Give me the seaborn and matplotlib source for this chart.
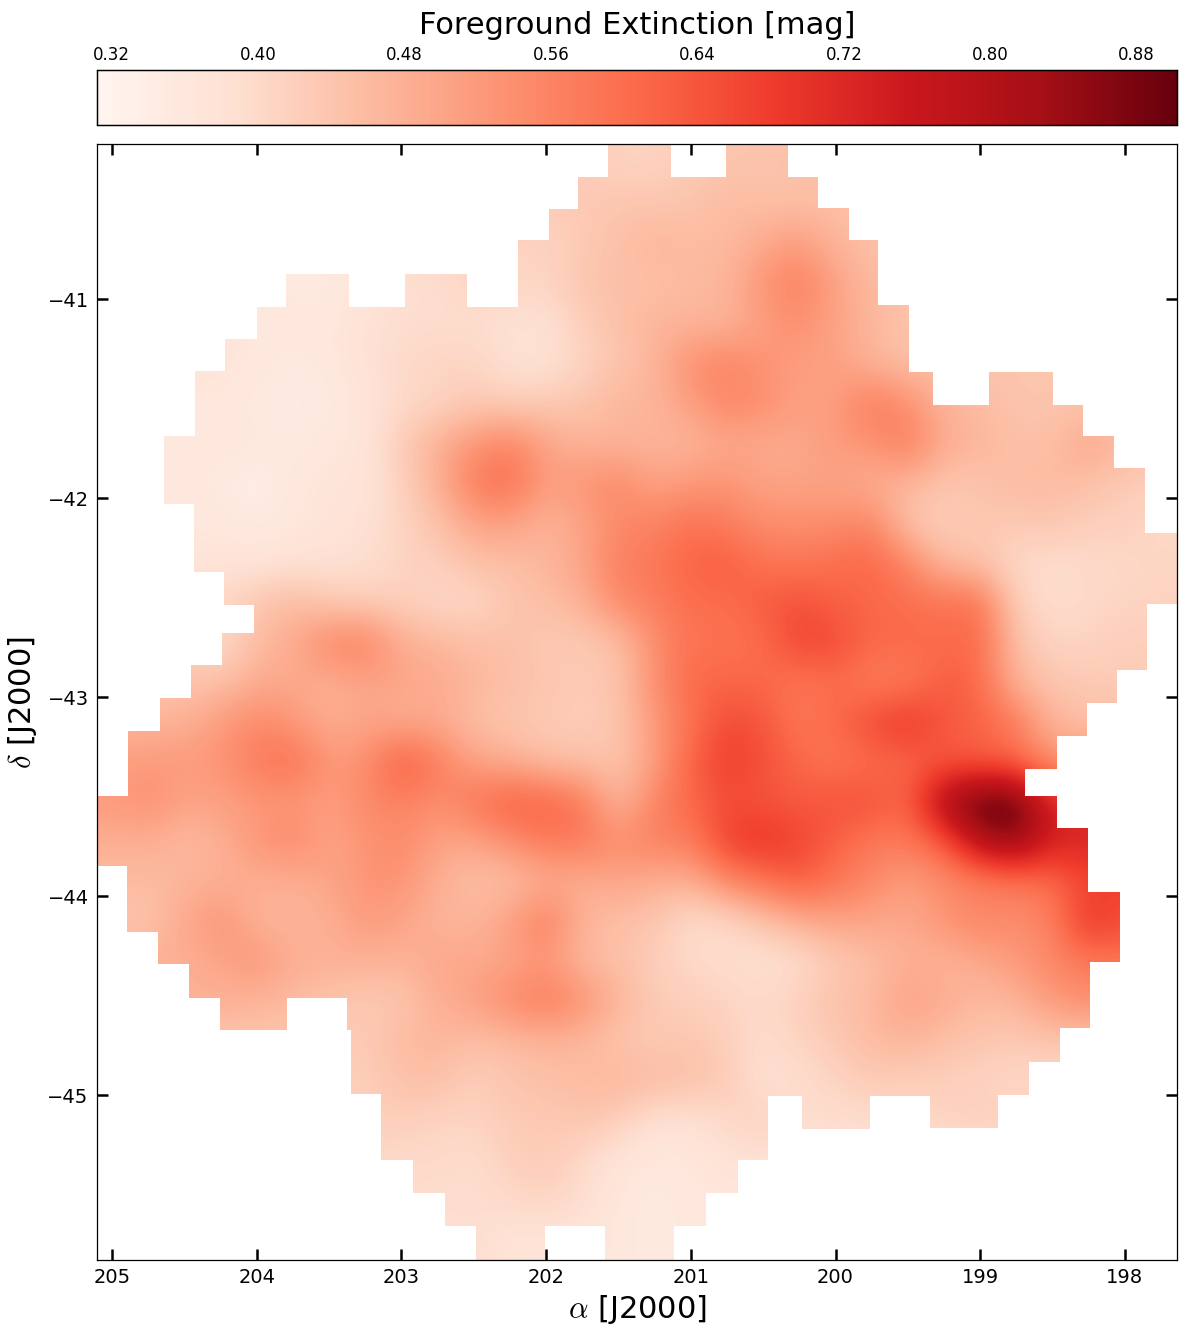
import numpy as np
import matplotlib.pyplot as plt
import seaborn as sns
from matplotlib.path import Path

RA_LEFT, RA_RIGHT = 205.104, 197.640
DEC_TOP, DEC_BOTTOM = -40.221, -45.829
VMIN, VMAX = 0.312, 0.902

ra_ticks = [205, 204, 203, 202, 201, 200, 199, 198]
dec_ticks = [-41, -42, -43, -44, -45]
cbar_ticks = [0.32, 0.40, 0.48, 0.56, 0.64, 0.72, 0.80, 0.88]

# extinction, rows north to south, columns east to west
extinction = [
    [.43,.43,.43,.43,.43,.43,.43,.43,.43,.43,.43,.43,.43,.43,.41,.41,.43,.44,.44,.45,.45,.45,.45,.45,.45,.45,.45,.45,.45,.45],
    [.43,.43,.43,.43,.43,.43,.43,.43,.43,.43,.43,.43,.43,.43,.44,.44,.44,.46,.45,.45,.45,.45,.45,.45,.45,.45,.45,.45,.45,.45],
    [.36,.36,.36,.36,.36,.36,.36,.38,.40,.40,.41,.41,.41,.43,.45,.47,.46,.46,.49,.52,.47,.45,.45,.45,.45,.45,.45,.45,.45,.45],
    [.36,.36,.36,.36,.36,.35,.35,.37,.39,.39,.41,.41,.41,.44,.45,.45,.46,.47,.53,.57,.51,.46,.45,.45,.45,.45,.45,.45,.45,.45],
    [.37,.37,.37,.37,.36,.36,.36,.38,.39,.39,.39,.38,.38,.42,.45,.47,.47,.47,.51,.54,.50,.47,.44,.44,.44,.44,.44,.44,.44,.44],
    [.37,.37,.37,.37,.36,.35,.36,.38,.40,.41,.41,.38,.38,.41,.44,.47,.54,.56,.53,.51,.51,.47,.45,.45,.44,.44,.44,.44,.44,.44],
    [.36,.36,.36,.36,.35,.35,.35,.37,.40,.41,.43,.42,.43,.44,.47,.47,.51,.56,.54,.51,.51,.58,.54,.47,.46,.44,.44,.44,.44,.44],
    [.36,.36,.36,.36,.36,.35,.36,.37,.43,.48,.53,.56,.50,.47,.47,.47,.47,.49,.49,.49,.52,.53,.58,.49,.47,.45,.45,.50,.47,.45],
    [.36,.36,.36,.35,.34,.36,.37,.37,.42,.48,.58,.60,.51,.53,.55,.50,.52,.53,.50,.50,.50,.48,.47,.44,.44,.46,.46,.45,.43,.42],
    [.36,.36,.36,.36,.35,.36,.37,.38,.41,.45,.50,.51,.47,.50,.55,.56,.59,.57,.54,.54,.54,.56,.44,.42,.44,.43,.44,.42,.42,.40],
    [.37,.37,.37,.37,.37,.38,.38,.39,.41,.42,.45,.45,.47,.50,.57,.58,.62,.63,.59,.58,.60,.61,.56,.46,.44,.40,.39,.40,.40,.41],
    [.41,.41,.41,.41,.44,.46,.43,.42,.42,.40,.40,.44,.45,.48,.55,.57,.60,.60,.63,.65,.62,.61,.60,.59,.60,.42,.39,.40,.41,.41],
    [.42,.42,.42,.39,.46,.49,.56,.57,.48,.47,.45,.45,.43,.43,.45,.54,.59,.59,.60,.67,.66,.61,.61,.60,.61,.45,.41,.41,.42,.42],
    [.44,.44,.44,.45,.49,.49,.48,.50,.50,.49,.47,.45,.44,.43,.44,.54,.61,.61,.61,.58,.60,.57,.57,.63,.61,.47,.44,.43,.43,.43],
    [.47,.47,.48,.52,.55,.52,.48,.50,.48,.49,.45,.44,.43,.42,.44,.52,.59,.66,.64,.58,.61,.66,.70,.64,.62,.58,.47,.45,.45,.45],
    [.51,.52,.52,.53,.58,.60,.52,.54,.64,.57,.50,.48,.45,.45,.44,.51,.62,.68,.65,.61,.58,.60,.61,.63,.62,.61,.53,.53,.53,.53],
    [.52,.54,.50,.51,.52,.52,.51,.55,.56,.54,.59,.63,.62,.58,.46,.56,.61,.65,.64,.63,.65,.65,.61,.82,.92,.92,.73,.70,.70,.70],
    [.48,.48,.46,.48,.53,.55,.50,.53,.55,.50,.50,.54,.58,.58,.54,.57,.57,.68,.70,.67,.62,.58,.58,.63,.80,.86,.74,.73,.73,.73],
    [.46,.46,.47,.48,.48,.48,.50,.53,.53,.48,.45,.45,.48,.48,.50,.48,.48,.55,.59,.63,.59,.55,.51,.54,.56,.58,.60,.66,.66,.66],
    [.44,.44,.50,.53,.47,.47,.48,.52,.50,.47,.47,.51,.58,.47,.45,.44,.39,.40,.44,.48,.50,.50,.49,.53,.56,.54,.56,.70,.66,.66],
    [.48,.48,.48,.50,.53,.48,.48,.48,.47,.50,.49,.50,.52,.46,.45,.42,.40,.39,.38,.39,.43,.45,.48,.47,.49,.52,.55,.58,.58,.58],
    [.48,.48,.48,.48,.47,.46,.44,.43,.44,.48,.51,.55,.58,.54,.47,.43,.42,.41,.40,.42,.45,.46,.51,.49,.46,.47,.52,.54,.54,.54],
    [.44,.44,.44,.44,.44,.44,.43,.43,.46,.47,.45,.46,.47,.46,.44,.43,.44,.42,.39,.41,.43,.46,.47,.45,.44,.43,.44,.44,.44,.44],
    [.42,.42,.42,.42,.42,.42,.42,.42,.45,.45,.42,.44,.45,.46,.47,.46,.45,.43,.38,.39,.41,.43,.42,.42,.41,.40,.40,.40,.40,.40],
    [.42,.42,.42,.42,.42,.42,.42,.42,.42,.41,.41,.43,.43,.44,.42,.38,.38,.40,.42,.39,.39,.39,.40,.41,.42,.42,.42,.42,.42,.42],
    [.40,.40,.40,.40,.40,.40,.40,.40,.40,.40,.39,.42,.43,.40,.37,.36,.36,.38,.38,.38,.38,.38,.38,.38,.38,.38,.38,.38,.38,.38],
    [.39,.39,.39,.39,.39,.39,.39,.39,.39,.39,.39,.40,.41,.39,.36,.35,.36,.36,.36,.36,.36,.36,.36,.36,.36,.36,.36,.36,.36,.36],
    [.39,.39,.39,.39,.39,.39,.39,.39,.39,.39,.39,.37,.37,.37,.36,.35,.36,.36,.36,.36,.36,.36,.36,.36,.36,.36,.36,.36,.36,.36],
]

# survey footprint outline, clockwise from the northern edge
footprint_ra = [
    201.137, 201.137, 200.757, 200.757, 200.328, 200.328, 200.121, 200.121, 199.907, 199.907,
    199.706, 199.706, 199.492, 199.492, 199.326, 199.326, 198.939, 198.939, 198.497, 198.497,
    198.290, 198.290, 198.075, 198.075, 197.861, 197.861, 197.640, 197.640, 197.847, 197.847,
    198.055, 198.055, 198.262, 198.262, 198.469, 198.469, 198.690, 198.690, 198.469, 198.469,
    198.255, 198.255, 198.034, 198.034, 198.241, 198.241, 198.449, 198.449, 198.663, 198.663,
    198.877, 198.877, 199.347, 199.347, 199.762, 199.762, 200.232, 200.232, 200.466, 200.466,
    200.674, 200.674, 200.895, 200.895, 201.116, 201.116, 201.593, 201.593, 202.008, 202.008,
    202.484, 202.484, 202.699, 202.699, 202.920, 202.920, 203.141, 203.141, 203.348, 203.348,
    203.376, 203.376, 203.791, 203.791, 204.254, 204.254, 204.468, 204.468, 204.682, 204.682,
    204.896, 204.896, 205.104, 205.104, 204.889, 204.889, 204.668, 204.668, 204.454, 204.454,
    204.240, 204.240, 204.019, 204.019, 204.226, 204.226, 204.433, 204.433, 204.641, 204.641,
    204.426, 204.426, 204.219, 204.219, 203.998, 203.998, 203.798, 203.798, 203.362, 203.362,
    202.975, 202.975, 202.547, 202.547, 202.194, 202.194, 201.980, 201.980, 201.780, 201.780,
    201.572, 201.572,
]
footprint_dec = [
    -40.221, -40.387, -40.387, -40.221, -40.221, -40.387, -40.387, -40.543, -40.543, -40.704,
    -40.704, -41.030, -41.030, -41.367, -41.367, -41.533, -41.533, -41.367, -41.367, -41.533,
    -41.533, -41.688, -41.688, -41.849, -41.849, -42.176, -42.176, -42.533, -42.533, -42.864,
    -42.864, -43.030, -43.030, -43.196, -43.196, -43.362, -43.362, -43.497, -43.497, -43.658,
    -43.658, -43.980, -43.980, -44.332, -44.332, -44.663, -44.663, -44.834, -44.834, -45.000,
    -45.000, -45.166, -45.166, -45.005, -45.005, -45.171, -45.171, -45.005, -45.005, -45.327,
    -45.327, -45.492, -45.492, -45.658, -45.658, -45.829, -45.829, -45.658, -45.658, -45.829,
    -45.829, -45.658, -45.658, -45.492, -45.492, -45.327, -45.327, -44.995, -44.995, -44.673,
    -44.673, -44.513, -44.513, -44.673, -44.673, -44.513, -44.513, -44.342, -44.342, -44.181,
    -44.181, -43.849, -43.849, -43.497, -43.497, -43.171, -43.171, -43.005, -43.005, -42.839,
    -42.839, -42.678, -42.678, -42.538, -42.538, -42.372, -42.372, -42.030, -42.030, -41.688,
    -41.688, -41.362, -41.362, -41.201, -41.201, -41.040, -41.040, -40.874, -40.874, -41.040,
    -41.040, -40.874, -40.874, -41.040, -41.040, -40.704, -40.704, -40.548, -40.548, -40.387,
    -40.387, -40.221,
]

sns.set_style("white")
plt.rcParams.update({"text.color": "black", "axes.labelcolor": "black",
                     "xtick.labelcolor": "black", "ytick.labelcolor": "black",
                     "mathtext.fontset": "cm"})

W, H = 1186, 1334
fig = plt.figure(figsize=(W / 100, H / 100), dpi=100)
ax = fig.add_axes([97 / W, 1 - 1260 / H, 1080 / W, 1116 / H])
cax = fig.add_axes([97 / W, 1 - 125 / H, 1080 / W, 55 / H])

grid = np.array(extinction)
nrows, ncols = grid.shape

sns.heatmap(grid, ax=ax, cbar_ax=cax, cmap="Reds", vmin=VMIN, vmax=VMAX,
            xticklabels=False, yticklabels=False,
            cbar_kws={"orientation": "horizontal"})


def ra_to_col(ra):
    return (RA_LEFT - np.asarray(ra)) / (RA_LEFT - RA_RIGHT) * ncols


def dec_to_row(dec):
    return (DEC_TOP - np.asarray(dec)) / (DEC_TOP - DEC_BOTTOM) * nrows


# smooth version of the same cells, cut to the survey footprint
ax.collections[0].set_visible(False)
im = ax.imshow(grid, cmap="Reds", vmin=VMIN, vmax=VMAX, aspect="auto",
               interpolation="bicubic", extent=(0, ncols, nrows, 0))
outline = np.column_stack([ra_to_col(footprint_ra), dec_to_row(footprint_dec)])
im.set_clip_path(Path(np.vstack([outline, outline[:1]])), ax.transData)
ax.set_xlim(0, ncols)
ax.set_ylim(nrows, 0)

ax.set_xticks(ra_to_col(ra_ticks))
ax.set_xticklabels(ra_ticks)
ax.set_yticks(dec_to_row(dec_ticks))
ax.set_yticklabels([str(d).replace("-", "\u2212") for d in dec_ticks])
ax.tick_params(direction="in", length=8, width=1.8, labelsize=14, pad=6,
               top=True, right=True, bottom=True, left=True, color="black")
for spine in ax.spines.values():
    spine.set_visible(True)
    spine.set_linewidth(0.9)
    spine.set_color("black")
ax.set_xlabel(r"$\alpha$ [J2000]", fontsize=22, labelpad=4)
ax.set_ylabel(r"$\delta$ [J2000]", fontsize=22, labelpad=6)

cax.xaxis.set_ticks_position("top")
cax.set_xticks(cbar_ticks)
cax.set_xticklabels([f"{t:.2f}" for t in cbar_ticks])
cax.tick_params(axis="x", direction="in", length=4.5, width=0.5, labelsize=12, pad=4, color="black")
for spine in cax.spines.values():
    spine.set_visible(True)
    spine.set_linewidth(0.9)
    spine.set_color("black")
cax.set_title("Foreground Extinction [mag]", fontsize=22, pad=26)

fig.savefig("out.png", dpi=100)
